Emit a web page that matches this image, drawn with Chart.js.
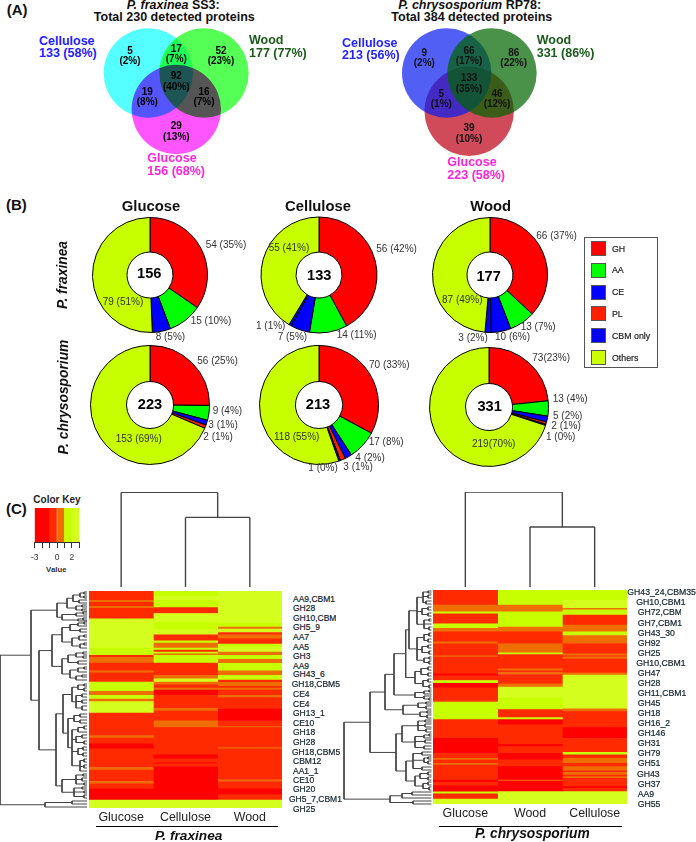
<!DOCTYPE html>
<html><head><meta charset="utf-8">
<script src="https://cdn.jsdelivr.net/npm/chart.js@4"></script>
<style>
html,body{margin:0;padding:0;background:#fff;width:696px;height:842px;overflow:hidden}
#page{position:absolute;left:0;top:0;width:696px;height:842px;font-family:"Liberation Sans",Arial,sans-serif}
#page canvas{position:absolute}
.t{position:absolute;white-space:nowrap;line-height:1}
.box{position:absolute;box-sizing:border-box}
</style></head><body><div id="page"></div>
<script>
/* ===== DATA: Venn counts ===== */
const vennNames = ["Cellulose","Wood","Glucose"];
const pfVennTotals = ["133 (58%)","177 (77%)","156 (68%)"];
const pcVennTotals = ["213 (56%)","331 (86%)","223 (58%)"];
const pfVennRegions = ["5","17","52","92","19","16","29"];
const pfVennRegionPct = ["(2%)","(7%)","(23%)","(40%)","(8%)","(7%)","(13%)"];
const pcVennRegions = ["9","66","86","133","5","46","39"];
const pcVennRegionPct = ["(2%)","(17%)","(22%)","(35%)","(1%)","(12%)","(10%)"];

/* ===== DATA: doughnuts (GH, AA, CE, PL, CBM only, Others) ===== */
const sliceCategories = ["GH","AA","CE","PL","CBM only","Others"];
const pfGlucoseCounts   = [54,15,8,0,0,79];
const pfCelluloseCounts = [56,14,7,0,1,55];
const pfWoodCounts      = [66,13,10,0,3,87];
const pcGlucoseCounts   = [56,9,3,2,0,153];
const pcCelluloseCounts = [70,17,4,3,1,118];
const pcWoodCounts      = [73,13,5,2,1,219];
const centerTotals = ["156","133","177","223","213","331"];
const pfGlucoseLabels   = ["54 (35%)","15 (10%)","8 (5%)","79 (51%)"];
const pfCelluloseLabels = ["56 (42%)","14 (11%)","7 (5%)","1 (1%)","55 (41%)"];
const pfWoodLabels      = ["66 (37%)","13 (7%)","10 (6%)","3 (2%)","87 (49%)"];
const pcGlucoseLabels   = ["56 (25%)","9 (4%)","3 (1%)","2 (1%)","153 (69%)"];
const pcCelluloseLabels = ["70 (33%)","17 (8%)","4 (2%)","3 (1%)","1 (0%)","118 (55%)"];
const pcWoodLabels      = ["73(23%)","13 (4%)","5 (2%)","2 (1%)","1 (0%)","219(70%)"];

/* ===== DATA: heatmaps. X=-2 red, R=-0.5 red-orange, O=0.5 orange, L=1.5 lime, Y=2.5 yellow-lime ===== */
const X=-2,R=-0.5,O=0.5,L=1.5,Y=2.5;
const pfColumns = ["Glucose","Cellulose","Wood"];
const pcColumns = ["Glucose","Wood","Cellulose"];
const keyEdges  = [-3,-1,0,1,2,3];
const keyLevels = [X,R,O,L,Y];

const pfGlucoseRows   = [9.3,2,4,2,10.7,29.3,7.3,2,5.7,7.7,2,9.3,9.3,4,3.7,2.7,11.3,22.7,2.6,5.7,5,18.7,2.6,11.4,2.3,5.3,11,8];
const pfGlucoseLevels = [R,O,R,O,R,Y,L,R,O,R,O,R,L,O,L,O,Y,R,O,R,X,R,O,R,O,R,X,Y];
const pfCelluloseRows   = [5.3,4,7.3,6,8,8.4,5,6,2.3,5,2,2,1.7,1.6,7.7,12.3,3.4,3.3,2.7,3.3,2,5,13.3,2.7,10,6.7,27.3,4,4,1,2.7,33.6,8];
const pfCelluloseLevels = [L,Y,L,R,Y,L,Y,R,L,O,L,R,L,O,L,R,O,Y,O,R,O,X,R,O,R,O,R,X,R,X,R,X,Y];
const pfWoodRows   = [32.3,4,2,3.3,2.4,4,5.3,3.3,4.7,3.3,4,4,7.4,4.6,4.7,2.3,4,1.7,2,5.3,2.4,11.3,12,5.7,1,20,1.3,31,1.7,7.3,6,5.3,8];
const pfWoodLevels = [Y,L,O,Y,R,O,R,L,Y,O,L,O,L,O,L,R,O,R,O,R,O,R,X,R,O,R,O,R,O,R,X,R,Y];

const pcGlucoseRows   = [15,6.7,2,10,4.7,3.3,10,2,12,1.3,16.7,2,4.7,2.7,4.7,13,1.3,17.4,18.6,15,5,1.7,3.3,1.7,15,2.3,3.4,6,2,5.3,5];
const pcGlucoseLevels = [R,O,L,R,L,O,R,O,R,O,R,X,R,L,X,R,O,L,R,X,R,O,R,O,R,X,R,X,L,R,Y];
const pcWoodRows   = [15,6.7,15.3,4.7,12,9,1.7,14.3,2,1.7,2,9.3,3.3,10.7,11.7,8,2,5.3,19.3,2.4,6.6,6.7,6.7,13.3,1,10.7,12.3];
const pcWoodLevels = [L,O,L,O,R,O,L,R,O,R,O,R,O,Y,L,R,L,X,R,X,R,X,R,X,O,X,Y];
const pcCelluloseRows   = [10.4,8,1.3,5.3,10,6.7,3.7,8,10.3,2,1,2.3,13.7,2.3,33.7,2.7,16,10.6,14,2.7,3.3,5,3.3,4.4,1.3,2.7,1.6,1.7,8.4,1.6,3.4,12.3];
const pcCelluloseLevels = [L,Y,O,L,R,O,L,O,R,O,R,O,R,O,Y,O,R,X,R,L,R,O,R,O,R,O,R,O,R,X,R,Y];

const pfRowLabels = ["AA9,CBM1","GH28","GH10,CBM1","GH5_9","AA7","AA5","GH3","AA9","GH43_6","GH18,CBM5","CE4","CE4","GH13_1","CE10","GH18","GH28","GH18,CBM5","CBM12","AA1_1","CE10","GH20","GH5_7,CBM1","GH25"];
const pcRowLabels = ["GH43_24,CBM35","GH10,CBM1","GH72,CBM4","GH7,CBM1","GH43_30","GH92","GH25","GH10,CBM1","GH47","GH28","GH11,CBM1","GH45","GH18","GH16_2","GH146","GH31","GH79","GH51","GH43","GH37","AA9","GH55"];

/* ===== DATA: dendrograms as [merge height, ...children]; a bare number is a leaf ===== */
const pfColumnTree = [94.6,0,[69.6,1,2]];
const pcColumnTree = [95,0,[60,1,2]];
const pfRowTree = [0,
 [31,
  [57,
   [67,[73,[80,[84,592,594],[84,596,598]],[79,600,603]],[76,[82,605,607],[82,609,611]]],
   [62,[76,[83,612,614],616],[78,[83,618,620],621]]],
  [39,
   [52,
    [62,[70,[78,[84,622,624],626],[80,629,632]],[72,[79,[84,635,637],640],[80,[84,643,645],648]]],
    [62,[68,[76,[83,652,654],[83,656,658]],[78,661,664]],[70,[78,[84,667,669],672],[76,[82,675,677],680]]]],
   [56,
    [63,
     [72,[78,[84,684,686],[84,688,691]],[76,[82,694,697],[82,700,703],[82,706,710]]],
     [68,[74,[80,714,717],[80,720,723]],[72,[78,[84,726,729],732],[76,[82,735,738],[84,741,744]],[78,[83,747,750],[83,753,756]],[80,[84,759,762],[84,765,768],771]]]],
    [62,[76,[83,774,776],[82,778,781],[84,783,785]],[74,[82,787,789],[84,791,793],[84,795,798]]]]]],
 [45,[72,801,804],[72,807]]];
const pcRowTree = [344,
 [370,
  [385,
   [394,
    [405.7,
     [409,
      [417,[423,[428,591,593],[428,595,598],[426,601,604]],[422,[428,607,610],[428,613,616]],[424,[429,619,621],624,[429,627,630]]],
      [417,[424,[429,633,636],[428,639,642]],[422,[428,645,648],[429,651,654]],[424,[429,657,659],[429,661,664]]]],
     [415,[421,[428,667,670],[428,673,676]],[423,[428,679,682],[429,685,688]]]],
    [415,[424,[429,690,692],694],[424,696,[429,698,700]]]],
   [403,[418,[426,702,704],[426,706,709]],[420,[427,711,713],[427,715,718]]]],
  [396,
   [402,[418,[425,720,722],[425,724,727],[426,729,732]],[415,[424,[429,734,736],738],[425,740,743],[424,746,749]]],
   [406,[413,[422,752,755],[424,[428,757,759],[428,761,764]],[422,767,770]],[415,[420,[428,772,775],[428,777,780]],[423,[428,782,785],[429,787,790]]]]]],
 [390,[402,[412,792,795],798],[413,801,804]]];

/* ===== LAYOUT AND STYLE (not data) ===== */
const levelColor = v => v < -1 ? "#FF0000" : v < 0 ? "#FF2A00" : v < 1 ? "#EE6E00" : v < 2 ? "#C8FF00" : "#D4FF1E";
const sliceColors = ["#FF0000","#00FF00","#0000FF","#FF2000","#0000FF","#C8FF00"];
const legendSwatches = ["#FF0000","#00FF00","#0000FF","#FF2000","#0000EE","#CCFF00"];
/* circles in drawing order */
const pfVennGeom = {box:[100,25,250,156],blend:true,pts:[[148.3,73],[204,73],[176.3,109.5]],r:44.7,colors:["#55FFFF","#55FF55","#FF55FF"]};
const pcVennGeom = {box:[400,25,540,158],blend:false,pts:[[469.2,111.2],[446.7,73],[492,73]],r:44.7,colors:["rgba(189,0,22,.71)","rgba(10,30,240,.71)","rgba(0,100,0,.71)"]};
const pie = [
 {c:[150,274.5],r:57.5,h:23,data:pfGlucoseCounts,num:[149.3,273.3],labels:pfGlucoseLabels,pos:[[205.7,245.3],[190.7,321],[155.7,337],[102.7,302.3]]},
 {c:[319,275],r:58,h:23,data:pfCelluloseCounts,num:[319.3,275],labels:pfCelluloseLabels,pos:[[376.3,249.3],[336.7,335],[277.7,336.7],[256,325.7],[268.7,248]]},
 {c:[490,274.5],r:57.5,h:23,data:pfWoodCounts,num:[488.7,275.7],labels:pfWoodLabels,pos:[[536.3,235.7],[520.7,326.7],[495,336.7],[458.3,337.7],[442,300.3]]},
 {c:[150,405],r:59.5,h:23.5,data:pcGlucoseCounts,num:[150,404.3],labels:pcGlucoseLabels,pos:[[197.3,360.7],[212.7,411],[208.3,425.3],[203.3,437.3],[115.7,439]]},
 {c:[318.5,405],r:59.5,h:23.5,data:pcCelluloseCounts,num:[318,404.3],labels:pcCelluloseLabels,pos:[[369,365.3],[368.7,441.7],[355.3,458.3],[343.3,467],[308.3,468.3],[274,437]]},
 {c:[489,406.5],r:59.5,h:23.5,data:pcWoodCounts,num:[489.7,406],labels:pcWoodLabels,pos:[[532.3,358],[552.7,399],[553,416],[551.3,426],[546,437],[472,444]]}
];
const page = document.getElementById("page");
Chart.defaults.font.family = '"Liberation Sans",Arial,sans-serif';
Chart.defaults.animation = false;
Chart.defaults.responsive = false;
Chart.defaults.devicePixelRatio = 1;
Chart.defaults.layout.autoPadding = false;
Chart.defaults.plugins.legend.display = false;
Chart.defaults.plugins.tooltip.enabled = false;

function text(s,x,y,o={}){
  const d=document.createElement("div");d.className="t";d.textContent=s;
  const st=d.style;st.left=x+"px";st.top=y+"px";
  st.fontSize=(o.size||10)+"px";st.fontWeight=o.bold?"bold":"normal";st.fontStyle=o.italic?"italic":"normal";
  st.color=o.color||"#111";
  if(o.stroke)st.webkitTextStroke=o.stroke+"px "+(o.color||"#111");
  const tx=o.align==="center"?"-50%":"0";
  st.transform=`translate(${tx},-50%)`+(o.rotate?` rotate(${o.rotate}deg)`:"");
  if(o.clip){st.width=o.clip+"px";st.overflow="hidden";st.lineHeight="1.2"}
  page.appendChild(d);return d;
}
function canvas(x0,y0,x1,y1){
  const c=document.createElement("canvas");
  c.width=x1-x0;c.height=y1-y0;c.style.left=x0+"px";c.style.top=y0+"px";
  c.style.width=(x1-x0)+"px";c.style.height=(y1-y0)+"px";
  page.appendChild(c);return c.getContext("2d");
}
const hiddenAxis=(min,max,reverse)=>({type:"linear",display:false,min,max,reverse:!!reverse});

/* ---- Venn diagrams as bubble charts ---- */
const multiply={id:"multiply",
  beforeDatasetsDraw(ch){const g=ch.ctx;g.save();g.fillStyle="#fff";g.fillRect(0,0,ch.width,ch.height);g.restore();g.globalCompositeOperation="multiply";},
  afterDatasetsDraw(ch){ch.ctx.globalCompositeOperation="source-over";}};
function venn(g){
  const [x0,y0,x1,y1]=g.box;
  new Chart(canvas(x0,y0,x1,y1),{type:"bubble",plugins:g.blend?[multiply]:[],
    data:{labels:vennNames,datasets:[{data:g.pts.map(p=>({x:p[0],y:p[1],r:g.r})),backgroundColor:g.colors,borderWidth:0,clip:false}]},
    options:{layout:{padding:0},scales:{x:hiddenAxis(x0,x1),y:hiddenAxis(y0,y1,true)}}});
}
venn(pfVennGeom);venn(pcVennGeom);

const B12={size:12.5,bold:true};
text("(A)",6.7,9,{size:15,bold:true});text("(B)",6,204,{size:15,bold:true});text("(C)",6,508,{size:15,bold:true});
const tp=text("",173.3,5,B12);tp.innerHTML="<i>P. fraxinea</i> SS3:";tp.style.transform="translate(-50%,-50%)";
text("Total 230 detected proteins",174.3,17.3,{...B12,align:"center"});
const tc=text("",469.7,5,B12);tc.innerHTML="<i>P. chrysosporium</i> RP78:";tc.style.transform="translate(-50%,-50%)";
text("Total 384 detected proteins",471.8,17.3,{...B12,align:"center"});
const vennTextColor=["#2222FF","#1A5A1A","#FF22DD"];
[[[39,40.7,53.3],[249,40,53.3],[147.3,158.3,171.3]],[[342,42.7,55.3],[536.7,40,53],[447.3,162.3,175]]].forEach((set,k)=>{
  const tot=k?pcVennTotals:pfVennTotals;
  set.forEach((p,i)=>{text(vennNames[i],p[0],p[1],{...B12,color:vennTextColor[i]});text(tot[i],p[0],p[2],{...B12,color:vennTextColor[i]});});
});
const pfRegionPos=[[130,50.7,61.3],[176.3,49,59.3],[221,50.7,61.3],[176.3,76.3,86.7],[147.3,91.7,102.3],[204,91.7,102.3],[176.3,126,136.7]];
const pcRegionPos=[[424.3,52.7,63.3],[469,50.7,61.3],[513.7,52.7,63.3],[469,78.3,88.7],[441.3,93.7,104.3],[497,93.7,104.3],[469,128,138.7]];
pfRegionPos.forEach((p,i)=>{const o={size:10,bold:true,align:"center",color:"#000"};text(pfVennRegions[i],p[0],p[1],o);text(pfVennRegionPct[i],p[0],p[2],o);});
pcRegionPos.forEach((p,i)=>{const o={size:10,bold:true,align:"center",color:"#111"};text(pcVennRegions[i],p[0],p[1],o);text(pcVennRegionPct[i],p[0],p[2],o);});

/* ---- Doughnuts ---- */
pie.forEach((p,i)=>{
  const pad=Math.ceil(p.r)+2, cx=Math.round(p.c[0]), cy=Math.round(p.c[1]);
  new Chart(canvas(cx-pad,cy-pad,cx+pad,cy+pad),{type:"doughnut",
    data:{labels:sliceCategories,datasets:[{data:p.data,backgroundColor:sliceColors,borderColor:"#000",borderWidth:1,borderAlign:"center"}]},
    options:{radius:p.r,cutout:(p.h/p.r*100)+"%",layout:{padding:0}}});
  text(centerTotals[i],p.num[0],p.num[1],{size:14.6,bold:true,align:"center",color:"#000"});
  p.labels.forEach((s,k)=>text(s,p.pos[k][0],p.pos[k][1],{size:10,color:"#333"}));
});
[["Glucose",151],["Cellulose",318],["Wood",490.7]].forEach(a=>text(a[0],a[1],206,{size:14.8,bold:true,align:"center"}));
text("P. fraxinea",63.3,275,{size:13.8,bold:true,italic:true,align:"center",rotate:-90});
text("P. chrysosporium",64,397,{size:13.8,bold:true,italic:true,align:"center",rotate:-90});

/* legend */
const lg=document.createElement("div");lg.className="box";
Object.assign(lg.style,{left:"584px",top:"237px",width:"74px",height:"131px",border:"1.5px solid #555"});page.appendChild(lg);
sliceCategories.forEach((s,i)=>{
  const top=[241,262.7,284.7,306.3,328,350][i];
  const b=document.createElement("div");b.className="box";
  Object.assign(b.style,{left:"591px",top:top+"px",width:"15px",height:"15px",background:legendSwatches[i],border:"1px solid #555"});page.appendChild(b);
  text(s,612,top+7.5,{size:8.8,color:"#222",stroke:0.2});
});

/* ---- Dendrograms: scatter lines ---- */
function treePath(node,leafH,out){
  if(typeof node==="number")return {h:leafH,p:node};
  const h=node[0],kids=node.slice(1).map(k=>treePath(k,leafH,out));
  kids.forEach(k=>out.push({h,p:k.p},{h:k.h,p:k.p},{h:NaN,p:NaN}));
  const a=kids[0].p,b=kids[kids.length-1].p;
  out.push({h,p:a},{h,p:b},{h:NaN,p:NaN});
  return {h,p:(a+b)/2};
}
function dendroChart(ctx,pts,xs,ys,color,w){
  new Chart(ctx,{type:"scatter",data:{datasets:[{data:pts,showLine:true,pointRadius:0,borderColor:color,borderWidth:w,spanGaps:false,clip:false}]},
    options:{layout:{padding:0},scales:{x:xs,y:ys}}});
}
function columnDendro(tree,x0,x1,y0,y1){
  const out=[];treePath(tree,0,out);
  dendroChart(canvas(x0,y0,x1,y1),out.map(o=>({x:o.p,y:o.h})),hiddenAxis(-0.5,2.5),hiddenAxis(0,y1-y0),"#444",1.4);
}
columnDendro(pfColumnTree,89,282,492,587);
columnDendro(pcColumnTree,433,627,492,587);
function rowDendro(tree,x0,x1,y0,y1,leaf){
  const out=[];treePath(tree,leaf,out);
  dendroChart(canvas(x0,y0,x1,y1),out.map(o=>({x:o.h,y:o.p})),hiddenAxis(x0,x1),hiddenAxis(y0,y1,true),"#444",1);
}
rowDendro(pfRowTree,0,88,588,810,87);
rowDendro(pcRowTree,340,433,588,808,431.5);

/* ---- Heatmaps: floating bars ---- */
function spans(cat,rows){
  let s=0;return rows.map(n=>{const d={x:cat,y:[s,s+n]};s+=n;return d;});
}
function heat(x0,x1,y0,h,cols,rowsets,levelsets,total){
  const axisH=20;
  new Chart(canvas(x0,y0,x1,y0+h+axisH),{type:"bar",
    data:{labels:cols,datasets:cols.map((c,i)=>({data:spans(c,rowsets[i]),backgroundColor:levelsets[i].map(levelColor),borderWidth:0,grouped:false,barPercentage:1,categoryPercentage:1}))},
    options:{layout:{padding:0},scales:{
      x:{type:"category",grid:{display:false,drawTicks:false,tickLength:0},border:{display:false},afterFit:s=>{s.height=axisH},ticks:{color:"#222",font:{size:12.4},padding:2,maxRotation:0}},
      y:{type:"linear",display:false,min:0,max:total,reverse:true}}}});
}
heat(89,282,591,217,pfColumns,[pfGlucoseRows,pfCelluloseRows,pfWoodRows],[pfGlucoseLevels,pfCelluloseLevels,pfWoodLevels],217.6);
heat(433,627,590,214,pcColumns,[pcGlucoseRows,pcWoodRows,pcCelluloseRows],[pcGlucoseLevels,pcWoodLevels,pcCelluloseLevels],213.7);

/* row labels */
const pfLabelY=[598.7,608,617.7,627.3,637,646.7,656,665.7,674.3,684,694,703.7,713,722.7,732.3,742,751.7,760.7,770.7,780,789.3,799,808.7];
const pfLabelX=[293,293,293,293,293,293,293,293,293,291.7,293,293,293,293,293,293,292,293,293,293,293,289,293];
pfRowLabels.forEach((s,i)=>text(s,pfLabelX[i],pfLabelY[i],{size:8.5,color:"#12222b",stroke:0.2,clip:i===2?43:0}));
const pcLabelY=[592.3,601.7,612,622.7,632.7,642.7,652.7,662.7,673.3,683,693,703.3,713.3,723.3,733.3,743.3,753.3,763.3,773.7,784,794,804];
const pcLabelX=[627.3,636.3,637.7,637.7,637.7,637.7,637.7,636.3,637.7,637.7,637.7,637.7,637.7,637.7,637.7,637.7,637.7,637.7,637,637.7,637.7,637.7];
pcRowLabels.forEach((s,i)=>text(s,pcLabelX[i],pcLabelY[i],{size:8.7,color:"#12222b",stroke:0.2,clip:i===2?43:0}));

/* group rule + species */
[[96,825.5,182],[439.3,825.5,183]].forEach(a=>{const d=document.createElement("div");d.className="box";
  Object.assign(d.style,{left:a[0]+"px",top:a[1]+"px",width:a[2]+"px",height:"1px",background:"#000"});page.appendChild(d);});
text("P. fraxinea",188.7,836,{size:13.7,bold:true,italic:true,align:"center"});
text("P. chrysosporium",532.3,834.3,{size:13.8,bold:true,italic:true,align:"center"});

/* ---- Color key ---- */
text("Color Key",33.3,500,{size:10,bold:true,color:"#222"});
text("Value",56.3,570,{size:7.8,bold:true,align:"center",color:"#333"});
const keyAxisH=22;
new Chart(canvas(30,508,86,508+34+keyAxisH),{type:"bar",
  data:{labels:["Value"],datasets:[{data:keyLevels.map((v,i)=>({y:"Value",x:[keyEdges[i],keyEdges[i+1]]})),backgroundColor:keyLevels.map(levelColor),borderWidth:0,grouped:false,barPercentage:1,categoryPercentage:1}]},
  options:{indexAxis:"y",layout:{padding:{left:4.7,right:6.7}},scales:{
    y:{type:"category",display:false},
    x:{type:"linear",min:-3,max:3,afterFit:s=>{s.height=keyAxisH;s.paddingLeft=0;s.paddingRight=0},border:{color:"#333"},
       grid:{drawOnChartArea:false,color:"#333",tickLength:6},
       ticks:{stepSize:1,autoSkip:false,maxRotation:0,padding:5,color:"#333",font:{size:8.5},callback:v=>[-3,0,2].includes(v)?String(v):""}}}}});
</script></body></html>
